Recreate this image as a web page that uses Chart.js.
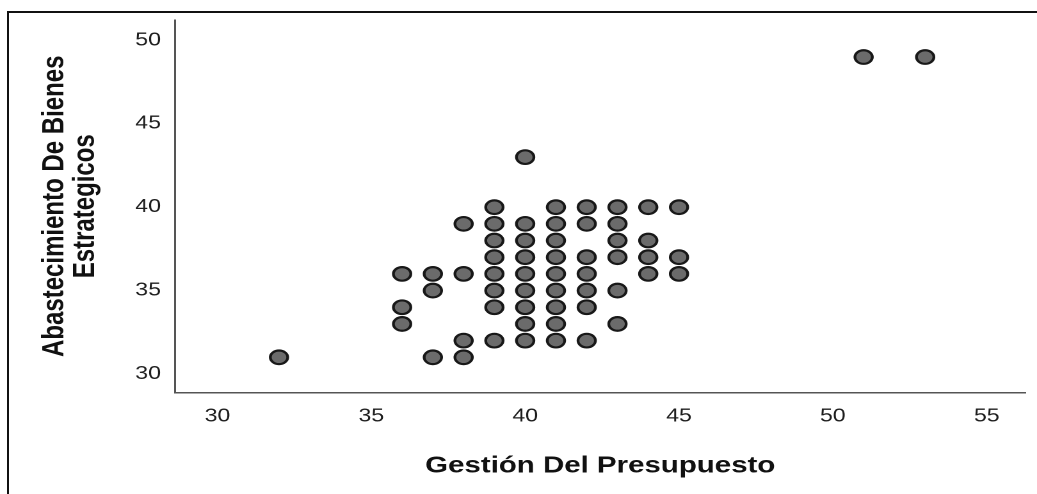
<!DOCTYPE html>
<html>
<head>
<meta charset="utf-8">
<script src="https://cdn.jsdelivr.net/npm/chart.js@4.4.1/dist/chart.umd.min.js"></script>
<style>
  html, body { margin: 0; padding: 0; background: #fff; overflow: hidden; }
  #wrap { position: relative; width: 1037px; height: 494px; overflow: hidden; }
  #c { display: block; width: 1037px; height: 494px; }
  #frame { position: absolute; left: 7px; top: 11px; right: -10px; bottom: -10px;
           border-top: 2px solid #111; border-left: 2px solid #111; pointer-events: none; }
</style>
</head>
<body>
<div id="wrap">
  <canvas id="c" width="810" height="494" style="width:1037px;height:494px"></canvas>
  <div id="frame"></div>
</div>
<script>
// Gestión Del Presupuesto (x) and Abastecimiento De Bienes Estrategicos (y), one entry per respondent
const gestionDelPresupuesto = [
  39, 41, 42, 43, 44, 45,
  38, 39, 40, 41, 42, 43,
  39, 40, 41, 43, 44,
  39, 40, 41, 42, 43, 44, 45,
  36, 37, 38, 39, 40, 41, 42, 44, 45,
  37, 39, 40, 41, 42, 43,
  36, 39, 40, 41, 42,
  36, 40, 41, 43,
  38, 39, 40, 41, 42,
  32, 37, 38,
  40, 51, 53
];
const abastecimientoBienes = [
  40, 40, 40, 40, 40, 40,
  39, 39, 39, 39, 39, 39,
  38, 38, 38, 38, 38,
  37, 37, 37, 37, 37, 37, 37,
  36, 36, 36, 36, 36, 36, 36, 36, 36,
  35, 35, 35, 35, 35, 35,
  34, 34, 34, 34, 34,
  33, 33, 33, 33,
  32, 32, 32, 32, 32,
  31, 31, 31,
  43, 49, 49
];
const xTickValues = [30, 35, 40, 45, 50, 55];
const yTickValues = [30, 35, 40, 45, 50];
const xTitle = 'Gestión Del Presupuesto';
const yTitle = ['Abastecimiento De Bienes', 'Estrategicos'];

const points = gestionDelPresupuesto.map((x, i) => ({ x: x, y: abastecimientoBienes[i] }));
const FONT = "'Liberation Sans', Arial, sans-serif";

new Chart(document.getElementById('c'), {
  type: 'scatter',
  data: {
    datasets: [{
      data: points,
      backgroundColor: '#6b6b6b',
      borderColor: '#181818',
      borderWidth: 2.2,
      pointRadius: 6.8,
      pointHoverRadius: 6.8
    }]
  },
  options: {
    responsive: false,
    animation: false,
    devicePixelRatio: 2,
    layout: { padding: { top: 20, right: 0, left: 0, bottom: 0 } },
    plugins: { legend: { display: false }, tooltip: { enabled: false } },
    scales: {
      x: {
        type: 'linear',
        position: 'bottom',
        min: 28.62,
        max: 56.26,
        grid: { display: false, drawTicks: false },
        border: { display: true, color: '#555', width: 1.5 },
        ticks: { padding: 13, color: '#1e1e1e', font: { family: FONT, size: 18 }, autoSkip: false, maxRotation: 0 },
        afterBuildTicks: s => { s.ticks = xTickValues.map(v => ({ value: v })); },
        afterFit: s => { s.height = 101.5; s.paddingLeft = 0; s.paddingRight = 0; },
        title: {
          display: true, text: xTitle, color: '#111',
          font: { family: FONT, size: 23, weight: 'bold', lineHeight: 1.2 },
          padding: { top: 0, bottom: 14 }
        }
      },
      y: {
        type: 'linear',
        position: 'left',
        min: 28.89,
        max: 51.22,
        grid: { display: false, drawTicks: false },
        border: { display: true, color: '#555', width: 1.5 },
        ticks: { padding: 11, color: '#1e1e1e', font: { family: FONT, size: 18 }, autoSkip: false },
        afterBuildTicks: s => { s.ticks = yTickValues.map(v => ({ value: v })); },
        afterFit: s => { s.width = 136.7; s.paddingTop = 0; s.paddingBottom = 0; },
        title: {
          display: true, text: yTitle, color: '#111',
          font: { family: FONT, size: 24, weight: 'bold', lineHeight: 1.0 },
          padding: { top: 31, bottom: 0 }
        }
      }
    }
  }
});
</script>
</body>
</html>
